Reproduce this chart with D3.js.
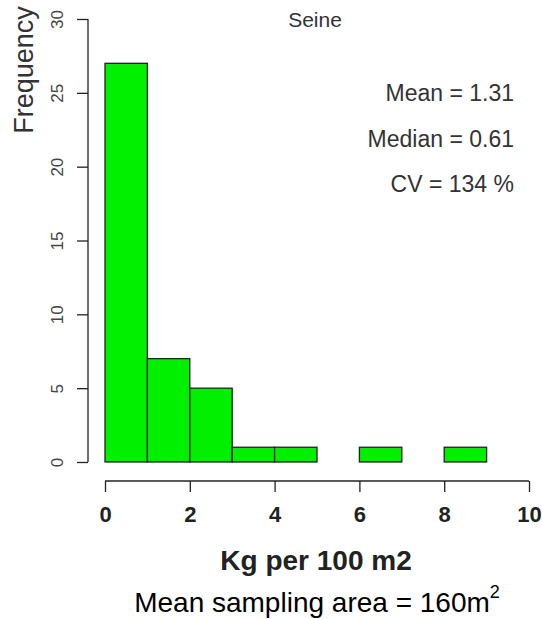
<!DOCTYPE html>
<html lang="en">
<head>
  <meta charset="UTF-8">
  <script src="https://cdn.jsdelivr.net/npm/d3@7"></script>
  <title>Seine histogram</title>
  <style>
    body { margin: 0; background: #fff; }
    text { font-family: Arial, "Liberation Sans", sans-serif; fill: #222; }
  </style>
</head>
<body>
  <svg width="542" height="619" id="chart"></svg>
  <script>
    // bins of Kg per 100 m2 and their counts
    const binStarts = [0, 1, 2, 3, 4, 5, 6, 7, 8, 9];
    const counts = [27, 7, 5, 1, 1, 0, 1, 0, 1, 0];
    const xTicks = [0, 2, 4, 6, 8, 10];
    const yTicks = [0, 5, 10, 15, 20, 25, 30];
    const stats = ["Mean = 1.31", "Median = 0.61", "CV = 134 %"];

    let svg = d3.select("#chart");

    let scaleX = d3.scaleLinear().domain([0, 10]).range([105, 529]);
    let scaleY = d3.scaleLinear().domain([0, 30]).range([462, 19]);

    /* BARS */
    svg.selectAll("rect.bar")
      .data(binStarts)
      .enter()
      .append("rect")
      .attr("class", "bar")
      .attr("x", d => scaleX(d))
      .attr("width", d => scaleX(d + 1) - scaleX(d))
      .attr("y", (d, i) => scaleY(counts[i]))
      .attr("height", (d, i) => scaleY(0) - scaleY(counts[i]))
      .attr("fill", "#00f000")
      .attr("stroke", "#222")
      .attr("stroke-width", 1.3);

    /* Y AXIS */
    let axisY = d3.axisLeft(scaleY).tickValues(yTicks).tickSize(11).tickPadding(4);
    let gy = svg.append("g").attr("transform", "translate(88,0)").call(axisY);
    gy.select(".domain").attr("d", "M0," + scaleY(0) + "V" + scaleY(30)).attr("stroke", "#222").attr("stroke-width", 1.3);
    gy.selectAll(".tick line").attr("stroke", "#222").attr("stroke-width", 1.3);
    gy.selectAll(".tick text")
      .attr("x", 0).attr("y", 0).attr("dy", null)
      .attr("transform", "translate(-31,0) rotate(-90)")
      .attr("text-anchor", "middle")
      .attr("dominant-baseline", "central")
      .style("font-size", "17px")
      .style("fill", "#444")
      .style("font-family", "Arial, 'Liberation Sans', sans-serif");

    /* X AXIS */
    let axisX = d3.axisBottom(scaleX).tickValues(xTicks).tickSize(11).tickPadding(14);
    let gx = svg.append("g").attr("transform", "translate(0,481)").call(axisX);
    gx.select(".domain").attr("d", "M" + scaleX(0) + ",0H" + scaleX(10)).attr("stroke", "#222").attr("stroke-width", 1.3);
    gx.selectAll(".tick line").attr("stroke", "#222").attr("stroke-width", 1.3);
    gx.selectAll(".tick text")
      .style("font-size", "22px")
      .style("font-weight", "bold")
      .style("fill", "#222")
      .style("font-family", "Arial, 'Liberation Sans', sans-serif");

    /* LABELS */
    svg.append("text")
      .attr("transform", "translate(33,70) rotate(-90)")
      .attr("text-anchor", "middle")
      .style("font-size", "27px")
      .style("fill", "#333")
      .text("Frequency");

    svg.append("text")
      .attr("x", 315).attr("y", 27)
      .attr("text-anchor", "middle")
      .style("font-size", "21px")
      .style("fill", "#333")
      .text("Seine");

    svg.selectAll("text.stat")
      .data(stats)
      .enter()
      .append("text")
      .attr("class", "stat")
      .attr("x", 514)
      .attr("y", (d, i) => 101 + i * 45.5)
      .attr("text-anchor", "end")
      .style("font-size", "23px")
      .style("fill", "#333")
      .text(d => d);

    svg.append("text")
      .attr("x", 316).attr("y", 570)
      .attr("text-anchor", "middle")
      .style("font-size", "28px")
      .style("font-weight", "bold")
      .text("Kg per 100 m2");

    let foot = svg.append("text")
      .attr("x", 317).attr("y", 612)
      .attr("text-anchor", "middle")
      .style("font-size", "28px")
      .style("fill", "#000");
    foot.append("tspan").text("Mean sampling area = 160m");
    foot.append("tspan").attr("dy", -14).style("font-size", "18px").text("2");
  </script>
</body>
</html>
